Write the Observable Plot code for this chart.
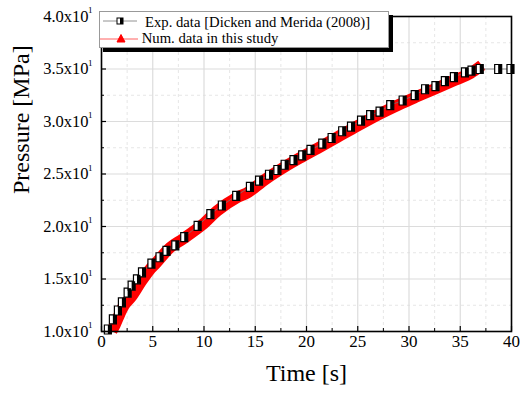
<!DOCTYPE html>
<html>
<head>
<meta charset="utf-8">
<script src="https://cdn.jsdelivr.net/npm/d3@7"></script>
<script src="https://cdn.jsdelivr.net/npm/@observablehq/plot@0.6"></script>
<style>
  body { margin: 0; background: #fff; }
  #wrap { position: relative; width: 520px; height: 395px; font-family: "Liberation Serif", "Times New Roman", serif; }
  #legend { position: absolute; left: 99px; top: 11px; width: 290px; height: 37px; box-sizing: border-box;
            background: #fff; border: 1px solid #999; box-shadow: 4px 4px 0 #000; }
  #legend svg { position: absolute; left: -1px; top: -1px; overflow: visible; }
</style>
</head>
<body>
<div id="wrap"><div id="legend"></div></div>
<script>
// Experimental data [Dicken and Merida (2008)]
const expTime = [0.62, 1.11, 1.60, 1.99, 2.55, 2.94, 3.46, 3.95, 4.87, 5.66, 6.34, 7.2, 8.07, 9.38, 10.62, 11.74,
  13.14, 14.48, 15.37, 16.34, 17.16, 17.87, 18.73, 19.58, 20.39, 21.54, 22.45, 23.48, 24.34, 25.32, 26.21, 27.13,
  28.17, 29.38, 30.56, 31.57, 32.58, 33.5, 34.38, 35.46, 36.1, 36.9, 38.7, 39.9];
const expPressure = [10.19, 11.15, 12.0, 12.77, 13.7, 14.36, 14.97, 15.64, 16.47, 17.07, 17.67, 18.2, 18.98, 20.06, 21.17, 22.0,
  22.92, 23.78, 24.36, 24.93, 25.38, 25.88, 26.33, 26.78, 27.29, 27.89, 28.43, 29.07, 29.51, 30.09, 30.6, 30.95,
  31.56, 32.0, 32.51, 33.07, 33.37, 33.85, 34.23, 34.67, 34.85, 35.0, 35.0, 35.0];

// Numerical data in this study
const numTime = [1.0, 1.3, 1.7, 2.2, 2.9, 3.9, 4.8, 5.3, 6.7, 8.0, 10.0, 11.3, 13.3, 14.3, 16.0, 17.9, 19.5, 21.1,
  23.0, 25.0, 27.3, 29.0, 30.6, 32.5, 34.5, 36.0, 37.1];
const numPressure = [10.05, 10.6, 11.5, 12.5, 13.3, 14.8, 16.0, 16.5, 18.0, 18.85, 20.3, 21.5, 22.8, 23.25, 24.5, 25.7, 26.6, 27.45,
  28.5, 29.6, 30.8, 31.6, 32.3, 33.1, 33.95, 34.6, 35.35];

// Axes
const xTicks = [0, 5, 10, 15, 20, 25, 30, 35, 40];
const xTickLabels = ["0", "5", "10", "15", "20", "25", "30", "35", "40"];
const xMinor = [2.5, 7.5, 12.5, 17.5, 22.5, 27.5, 32.5, 37.5];
const yTicks = [10, 15, 20, 25, 30, 35, 40];
const yTickMantissa = ["1.0x10", "1.5x10", "2.0x10", "2.5x10", "3.0x10", "3.5x10", "4.0x10"];
const yTickExponent = ["1", "1", "1", "1", "1", "1", "1"];
const yMinor = [12.5, 17.5, 22.5, 27.5, 32.5, 37.5];
const xTitle = "Time [s]";
const yTitle = "Pressure [MPa]";
const legendLabels = ["Exp. data [Dicken and Merida (2008)]", "Num. data in this study"];

const expData = expTime.map((t, i) => ({t, p: expPressure[i]}));
const numData = numTime.map((t, i) => ({t, p: numPressure[i]}));

const W = 520, H = 395, mT = 16, mB = 64, mL = 101, mR = 9;
const fh = H - mT - mB, fw = W - mL - mR;
const font = '"Liberation Serif", "Times New Roman", serif';

const boxSymbol = { draw(ctx) { ctx.moveTo(-3.5, -4.5); ctx.lineTo(3.5, -4.5); ctx.lineTo(3.5, 4.5); ctx.lineTo(-3.5, 4.5); ctx.closePath(); } };
const halfSymbol = { draw(ctx) { ctx.moveTo(0, -4.5); ctx.lineTo(3.5, -4.5); ctx.lineTo(3.5, 4.5); ctx.lineTo(0, 4.5); ctx.closePath(); } };

const chart = Plot.plot({
  width: W, height: H,
  marginTop: mT, marginBottom: mB, marginLeft: mL, marginRight: mR,
  style: { fontFamily: font, background: "#fff", color: "#000" },
  x: { domain: [0, 40], axis: null },
  y: { domain: [10, 40], axis: null },
  marks: [
    Plot.ruleX(xMinor, { stroke: "#e6e6e6", strokeWidth: 1, strokeDasharray: "3,3" }),
    Plot.ruleY(yMinor, { stroke: "#e6e6e6", strokeWidth: 1, strokeDasharray: "3,3" }),
    Plot.ruleX(xTicks, { stroke: "#dcdcdc", strokeWidth: 1.2 }),
    Plot.ruleY(yTicks, { stroke: "#dcdcdc", strokeWidth: 1.2 }),
    Plot.line(numData, { x: "t", y: "p", stroke: "#ff0000", strokeWidth: 11.5, strokeLinecap: "butt", strokeLinejoin: "round", curve: "catmull-rom" }),
    Plot.line(expData, { x: "t", y: "p", stroke: "#777", strokeWidth: 0.8 }),
    Plot.dot(expData, { x: "t", y: "p", symbol: boxSymbol, fill: "#fff", stroke: "#000", strokeWidth: 1.2 }),
    Plot.dot(expData, { x: "t", y: "p", symbol: halfSymbol, fill: "#000", stroke: "none" }),
    Plot.tickX(xTicks, { x: d => d, insetTop: fh - 5, stroke: "#000", strokeWidth: 1.2 }),
    Plot.tickX(xMinor, { x: d => d, insetTop: fh - 3, stroke: "#000", strokeWidth: 1 }),
    Plot.tickY(yTicks, { y: d => d, insetRight: fw - 5, stroke: "#000", strokeWidth: 1.2 }),
    Plot.tickY(yMinor, { y: d => d, insetRight: fw - 3, stroke: "#000", strokeWidth: 1 }),
    Plot.frame({ stroke: "#000", strokeWidth: 1.6 }),
    // tick labels
    Plot.text(xTicks, { x: d => d, frameAnchor: "bottom", dy: 15, text: (d, i) => xTickLabels[i], fontSize: 17, fontFamily: font, fill: "#000" }),
    Plot.text(yTicks, { y: d => d, frameAnchor: "left", dx: -13, textAnchor: "end", text: (d, i) => yTickMantissa[i], fontSize: 16.5, fontFamily: font, fill: "#000" }),
    Plot.text(yTicks, { y: d => d, frameAnchor: "left", dx: -9, dy: -6, textAnchor: "end", text: (d, i) => yTickExponent[i], fontSize: 9, fontFamily: font, fill: "#000" }),
    // titles
    Plot.text([xTitle], { frameAnchor: "bottom", dy: 49, fontSize: 24, fontFamily: font, fill: "#000" }),
    Plot.text([yTitle], { frameAnchor: "left", rotate: -90, dx: -80, dy: 20, fontSize: 24, fontFamily: font, fill: "#000" })
  ]
});
document.getElementById("wrap").prepend(chart);

// Legend
const lg = d3.select("#legend").append("svg").attr("width", 290).attr("height", 37);
lg.append("line").attr("x1", 4).attr("x2", 38).attr("y1", 10).attr("y2", 10).attr("stroke", "#777").attr("stroke-width", 0.8);
lg.append("rect").attr("x", 18).attr("y", 7).attr("width", 6).attr("height", 6).attr("fill", "#fff").attr("stroke", "#000");
lg.append("rect").attr("x", 21).attr("y", 7).attr("width", 3).attr("height", 6).attr("fill", "#000");
lg.append("text").attr("x", 46).attr("y", 15.7).attr("font-size", 14.7).attr("font-family", font).text(legendLabels[0]);
lg.append("line").attr("x1", 1).attr("x2", 39).attr("y1", 28).attr("y2", 28).attr("stroke", "#ff6060").attr("stroke-width", 1);
lg.append("path").attr("d", "M22,23.5 L26,31 L18,31 Z").attr("fill", "#ff0000").attr("stroke", "#ff0000");
lg.append("text").attr("x", 42.7).attr("y", 32.3).attr("font-size", 14.7).attr("font-family", font).text(legendLabels[1]);
</script>
</body>
</html>
